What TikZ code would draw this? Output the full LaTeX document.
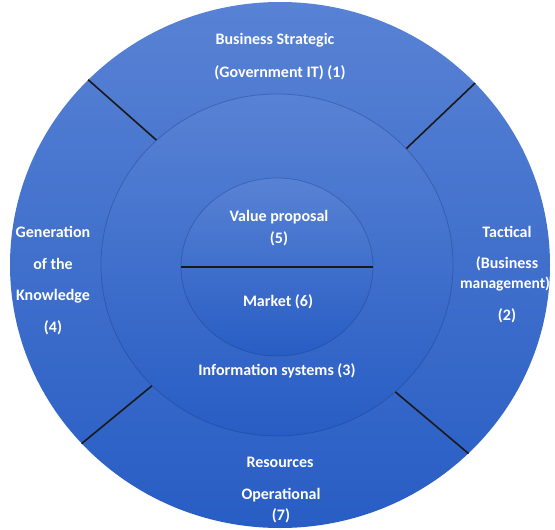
\documentclass[tikz,border=0pt]{standalone}
\usepackage{fontspec}
\setmainfont{Carlito}
\usetikzlibrary{shapes.geometric}

\definecolor{ringtop}{RGB}{88,130,212}
\definecolor{ringbot}{RGB}{40,93,196}
\definecolor{rimshade}{RGB}{25,55,125}

\tikzset{
	ring/.style={ellipse,inner sep=0pt,top color=ringtop,bottom color=ringbot},
	innerring/.style={ring,draw=rimshade,draw opacity=0.35,line width=0.8pt},
	lbl/.style={text=white,font=\bfseries\fontsize{16}{18}\selectfont,inner sep=0pt},
	sepline/.style={line width=1.6pt,black!90}
}

\begin{document}
\begin{tikzpicture}[x=1pt,y=-1pt]
	\useasboundingbox (0,0) rectangle (555,530);
	\clip (0,0) rectangle (555,530);

	%rings
	\node[ring,minimum width=540pt,minimum height=526pt] (outer) at (280,265) {};
	\node[innerring,minimum width=352pt,minimum height=342pt] (mid) at (277,265) {};
	\node[innerring,minimum width=192pt,minimum height=178pt] (core) at (277,267) {};

	%separators
	\draw[sepline] (outer.136) -- (mid.134);
	\draw[sepline] (outer.43) -- (mid.42);
	\draw[sepline] (outer.222.6) -- (mid.224.5);
	\draw[sepline] (outer.315.8) -- (mid.313.4);
	\draw[sepline] (core.west) -- (core.east);

	%top
	\node[lbl] (bs1) at (275,40) {Business Strategic};
	\node[lbl] (bs2) at (280,73) {(Government IT) (1)};
	%right
	\node[lbl] (tc1) at (507,232) {Tactical};
	\node[lbl] (tc2) at (507,264) {(Business};
	\node[lbl] (tc3) at (505,284) {\fontsize{15.5}{18}\selectfont management)};
	\node[lbl] (tc4) at (507,316) {(2)};
	%left
	\node[lbl] (gk1) at (53,232) {Generation};
	\node[lbl] (gk2) at (53,264) {of the};
	\node[lbl] (gk3) at (53,296) {Knowledge};
	\node[lbl] (gk4) at (53,328) {(4)};
	%bottom
	\node[lbl] (op1) at (280,462) {Resources};
	\node[lbl] (op2) at (281,495) {Operational};
	\node[lbl] (op3) at (281,516) {(7)};
	%middle ring and core
	\node[lbl] (is) at (277,371) {Information systems (3)};
	\node[lbl] (vp1) at (279,217) {Value proposal};
	\node[lbl] (vp2) at (279,239) {(5)};
	\node[lbl] (mk) at (278,302) {Market (6)};
\end{tikzpicture}
\end{document}
